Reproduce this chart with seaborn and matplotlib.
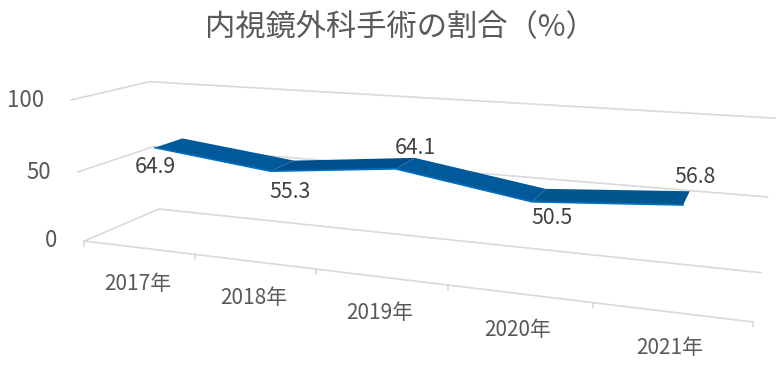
import numpy as np
import pandas as pd
import matplotlib.pyplot as plt
from matplotlib.patches import Polygon
import seaborn as sns

# chart data
years = ['2017年', '2018年', '2019年', '2020年', '2021年']
rates = [64.9, 55.3, 64.1, 50.5, 56.8]
y_ticks = [0, 50, 100]
title = '内視鏡外科手術の割合（%）'

sns.set_theme(style='white')
plt.rcParams['font.family'] = ['Noto Sans CJK JP', 'DejaVu Sans']

# 3d frame: (category, value, depth) -> pixel
frame_3d = [(0, 0, 0), (0, 0, 1), (5, 0, 0), (5, 0, 1), (0, 100, 0), (0, 100, 1), (5, 100, 1),
            (0, 50, 0), (0, 50, 1), (5, 50, 1), (1, 0, 0), (2, 0, 0), (3, 0, 0), (4, 0, 0)]
frame_px = [(85, 241), (158.5, 209), (753, 322), (761, 273), (71, 100), (150, 82), (775, 118),
            (77, 172), (154, 146), (768, 197), (196, 254.5), (316, 269), (448, 285), (593, 302.6)]


def fit_camera(pts3, pts2):
    rows = []
    for (a, b, c), (u, v) in zip(pts3, pts2):
        p = [a, b / 20, c, 1]
        rows.append(p + [0, 0, 0, 0] + [-u * q for q in p])
        rows.append([0, 0, 0, 0] + p + [-v * q for q in p])
    return np.linalg.svd(np.array(rows))[2][-1].reshape(3, 4)


cam = fit_camera(frame_3d, frame_px)


def proj(cat, val, depth):
    h = cam @ np.array([cat, val / 20, depth, 1.0])
    return h[0] / h[2], h[1] / h[2]


fig = plt.figure(figsize=(7.82, 3.72), dpi=100)
ax = fig.add_axes([0, 0, 1, 1])
ax.set_xlim(0, 782)
ax.set_ylim(372, 0)
ax.axis('off')

grid_c = '#D9D9D9'
lw = 1.2

# gridlines: front-left -> back-left -> back-right
tick_dy = [-1, 1, 0]
for v, dy in zip(y_ticks, tick_dy):
    pts = [proj(0, v, 0), proj(0, v, 1), proj(5, v, 1)]
    df = pd.DataFrame(pts, columns=['x', 'y'])
    sns.lineplot(data=df, x='x', y='y', sort=False, color=grid_c, linewidth=lw, ax=ax, zorder=1)
    ax.text(pts[0][0] - 27, pts[0][1] + dy, str(v), ha='right', va='center', fontsize=16, color='#595959')

# floor front edge + ticks
df = pd.DataFrame([proj(0, 0, 0), proj(5, 0, 0)], columns=['x', 'y'])
sns.lineplot(data=df, x='x', y='y', color=grid_c, linewidth=lw, ax=ax, zorder=1)
for i in range(len(years) + 1):
    x0, y0 = proj(i, 0, 0)
    ax.plot([x0, x0], [y0, y0 + 5], color=grid_c, lw=lw, zorder=1)
for i, lab in enumerate(years):
    x0, y0 = proj(i + 0.5, 0, 0)
    ax.text(x0 - 1, y0 + 36, lab, ha='center', va='center', fontsize=15, color='#595959')

# ribbon
z_front, z_back = 0.30, 0.68
shades = ['#00599A', '#004F8C', '#00599A', '#00568F']
front = [proj(i + 0.5, r, z_front) for i, r in enumerate(rates)]
back = [proj(i + 0.5, r, z_back) for i, r in enumerate(rates)]
for i in range(len(rates) - 1):
    ax.add_patch(Polygon([front[i], front[i + 1], back[i + 1], back[i]], closed=True,
                         facecolor=shades[i], edgecolor='none', zorder=3))
df = pd.DataFrame(front, columns=['x', 'y'])
sns.lineplot(data=df, x='x', y='y', sort=False, color='#0070C0', linewidth=1.2, ax=ax, zorder=4)

# data labels
label_dx = [0, 19, 20, 20, 12]
label_dy = [19, 21, -21, 16, -28]
for i, r in enumerate(rates):
    ax.text(front[i][0] + label_dx[i], front[i][1] + label_dy[i], f'{r:.1f}', ha='center', va='center',
            fontsize=15.3, color='#404040', zorder=5)

ax.text(400, 28, title, ha='center', va='center', fontsize=21.8, color='#595959')
ax.set_xlabel('')
ax.set_ylabel('')

fig.savefig('out.png', dpi=100)
